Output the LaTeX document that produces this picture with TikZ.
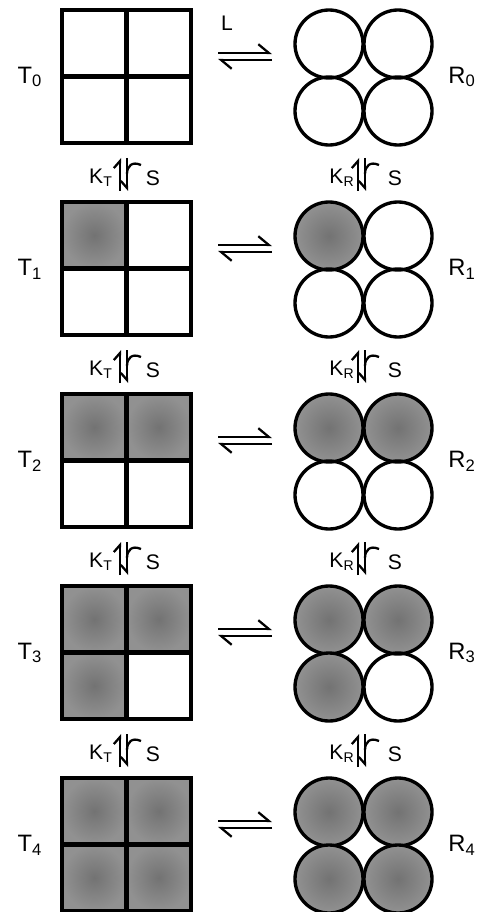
\documentclass[tikz,border=0pt]{standalone}
\usepackage{fontspec}
\setmainfont{Liberation Sans}
\usetikzlibrary{arrows.meta}

\tikzset{
  celda/.style={line width=2.3pt},
  lleno/.style={inner color=black!55, outer color=black!43},
  bola/.style={line width=1.9pt},
  etiq/.style={font=\fontsize{13.5}{15}\selectfont},
  constante/.style={font=\fontsize{12}{14}\selectfont},
  arpon/.style={line width=1.3pt,-{Straight Barb[left,length=6pt,width=10pt]}},
  arponv/.style={line width=1.3pt,-{Straight Barb[left,length=4pt,width=7pt]}},
}

\begin{document}
\begin{tikzpicture}[x=0.02cm,y=-0.02cm]
    \useasboundingbox (0,0) rectangle (484,912);

    % Cada fila: tetramero T a la izquierda, tetramero R a la derecha.
    \foreach \k in {0,...,4}{
      \begin{scope}[shift={(0,192*\k)}]
        \foreach \c/\xa/\ya in {1/62/10,2/126.5/10,3/62/76.5,4/126.5/76.5}{
          \ifnum\c>\k\else
            \fill[lleno] (\xa,\ya) rectangle ++(64.5,66.5);
          \fi
        }
        \draw[celda] (62,10) rectangle (191,143);
        \draw[celda] (126.5,10) -- (126.5,143);
        \draw[celda] (62,76.5) -- (191,76.5);

        \foreach \c/\xc/\yc in {1/329/44,2/398/44,3/329/111,4/398/111}{
          \ifnum\c>\k
            \draw[bola] (\xc,\yc) circle[radius=34];
          \else
            \path[bola,draw,lleno] (\xc,\yc) circle[radius=34];
          \fi
        }

        \node[etiq] (T\k) at (30,77) {T\textsubscript{\k}};
        \node[etiq] (R\k) at (462,77) {R\textsubscript{\k}};

        % Equilibrio T <-> R
        \coordinate (ea\k) at (218,53);
        \coordinate (eb\k) at (272,53);
        \coordinate (ec\k) at (272,60);
        \coordinate (ed\k) at (218,60);
        \draw[arpon] (ea\k) -- (eb\k);
        \draw[arpon] (ec\k) -- (ed\k);
      \end{scope}
    }

    \node[constante] (L) at (227,23) {L};

    % Union del sustrato S entre filas.
    \foreach \k in {0,...,3}{
      \begin{scope}[shift={(0,192*\k)}]
        \node[constante] (KT\k) at (101,178) {K\textsubscript{T}};
        \node[constante] (SA\k) at (153,178) {S};
        \coordinate (ua\k) at (120,191);
        \coordinate (ub\k) at (120,158);
        \coordinate (uc\k) at (127,158);
        \coordinate (ud\k) at (127,191);
        \coordinate (ue\k) at (141,165);
        \draw[arponv] (ua\k) -- (ub\k);
        \draw[line width=1.3pt,-{Straight Barb[right,length=4pt,width=7pt]}] (uc\k) -- (ud\k);
        \draw[line width=1.3pt] (ue\k) .. controls (132,161) and (127,166) .. (127,174);

        \node[constante] (KR\k) at (342,178) {K\textsubscript{R}};
        \node[constante] (SB\k) at (395,178) {S};
        \coordinate (ra\k) at (358,191);
        \coordinate (rb\k) at (358,158);
        \coordinate (rc\k) at (365,158);
        \coordinate (rd\k) at (365,191);
        \coordinate (re\k) at (379,165);
        \draw[arponv] (ra\k) -- (rb\k);
        \draw[line width=1.3pt,-{Straight Barb[right,length=4pt,width=7pt]}] (rc\k) -- (rd\k);
        \draw[line width=1.3pt] (re\k) .. controls (370,161) and (365,166) .. (365,174);
      \end{scope}
    }
\end{tikzpicture}
\end{document}
